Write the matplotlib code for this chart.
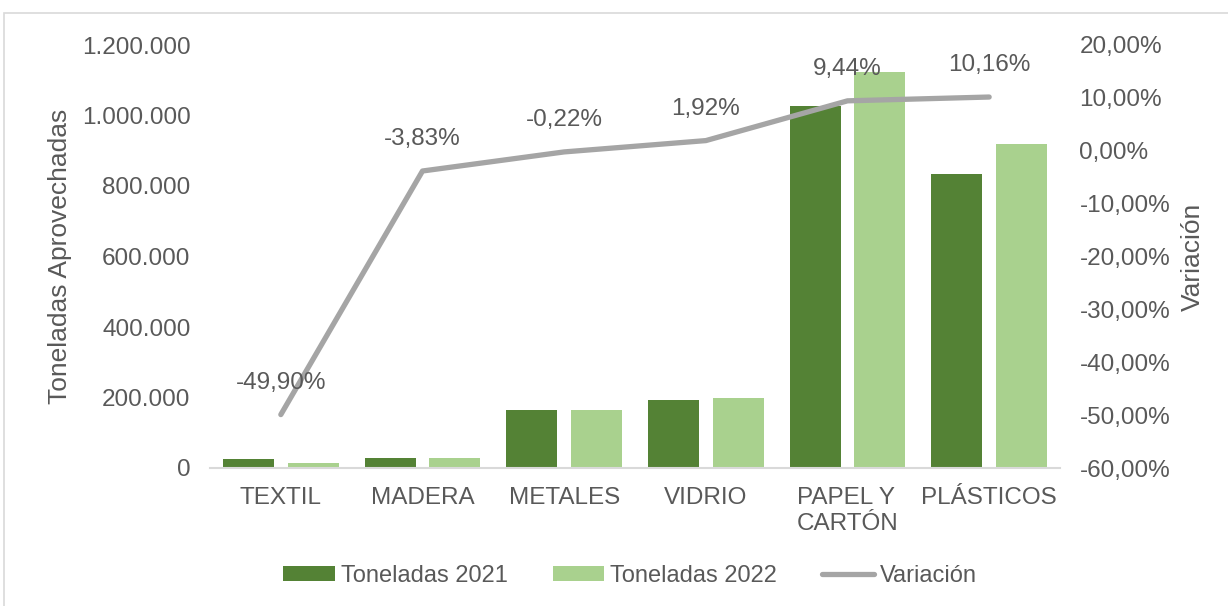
import matplotlib.pyplot as plt
import matplotlib.ticker as mticker
from matplotlib.patches import Rectangle
import numpy as np

plt.rcParams['font.family'] = ['Liberation Sans', 'DejaVu Sans']

categorias = ['TEXTIL', 'MADERA', 'METALES', 'VIDRIO', 'PAPEL Y\nCARTÓN', 'PLÁSTICOS']
ton_2021 = [25500, 29500, 163600, 194000, 1027800, 833800]
ton_2022 = [12780, 28370, 163250, 197700, 1124800, 918500]
variacion = [-49.90, -3.83, -0.22, 1.92, 9.44, 10.16]
etiquetas = ['-49,90%', '-3,83%', '-0,22%', '1,92%', '9,44%', '10,16%']

verde_osc = '#548235'
verde_cla = '#A9D18E'
gris = '#A5A5A5'
texto = '#595959'

fig = plt.figure(figsize=(12.28, 6.06), dpi=100)
ax = fig.add_axes([210 / 1228, 1 - 468 / 606, 850 / 1228, 423 / 606])
ax2 = ax.twinx()

# marco exterior del gráfico
fig.patches.append(Rectangle((4 / 1228, -0.1), 1.2, 1 - 13 / 606 + 0.1,
                             transform=fig.transFigure, fill=False,
                             edgecolor='#D9D9D9', linewidth=1.2))

x = np.arange(len(categorias))
w = 0.36
sep = 0.048 + w / 2
ax.bar(x - sep, ton_2021, w, color=verde_osc, label='Toneladas 2021', zorder=2)
ax.bar(x + sep, ton_2022, w, color=verde_cla, label='Toneladas 2022', zorder=2)

ax.set_xlim(-0.5, len(categorias) - 0.5)
ax.set_ylim(0, 1200000)
ax.set_yticks(np.arange(0, 1200001, 200000))
ax.yaxis.set_major_formatter(mticker.FuncFormatter(lambda v, p: f'{int(v):,}'.replace(',', '.')))
ax.set_xticks(x)
ax.set_xticklabels(categorias, multialignment='left')

ax2.plot(x, variacion, color=gris, linewidth=3.8, solid_capstyle='round', label='Variación', zorder=3)
ax2.set_ylim(-60, 20)
ax2.set_yticks(np.arange(-60, 21, 10))
ax2.yaxis.set_major_formatter(mticker.FuncFormatter(lambda v, p: f'{v:.2f}%'.replace('.', ',')))
for xi, vi, et in zip(x, variacion, etiquetas):
    ax2.annotate(et, (xi, vi), xytext=(0, 23), textcoords='offset points',
                 ha='center', va='center', fontsize=17.5, color=texto)

for a in (ax, ax2):
    for s in a.spines.values():
        s.set_visible(False)
    a.tick_params(length=0, labelsize=17.5, labelcolor=texto)
ax.spines['bottom'].set_visible(True)
ax.spines['bottom'].set_color('#D9D9D9')
ax.spines['bottom'].set_linewidth(1.5)
ax.tick_params(axis='x', pad=14)
ax.tick_params(axis='y', pad=14)
ax2.tick_params(axis='y', pad=14)

ax.set_ylabel('Toneladas Aprovechadas', fontsize=19, color=texto, labelpad=7)
ax2.set_ylabel('Variación', fontsize=19, color=texto, labelpad=8)

h1, l1 = ax.get_legend_handles_labels()
h2, l2 = ax2.get_legend_handles_labels()
fig.legend(h1 + h2, l1 + l2, loc='center', bbox_to_anchor=(0.513, 0.05), ncol=3,
           frameon=False, fontsize=17, labelcolor=texto, handlelength=2.2,
           handleheight=0.6, handletextpad=0.25, columnspacing=1.9)

fig.savefig('out.png', dpi=100)
